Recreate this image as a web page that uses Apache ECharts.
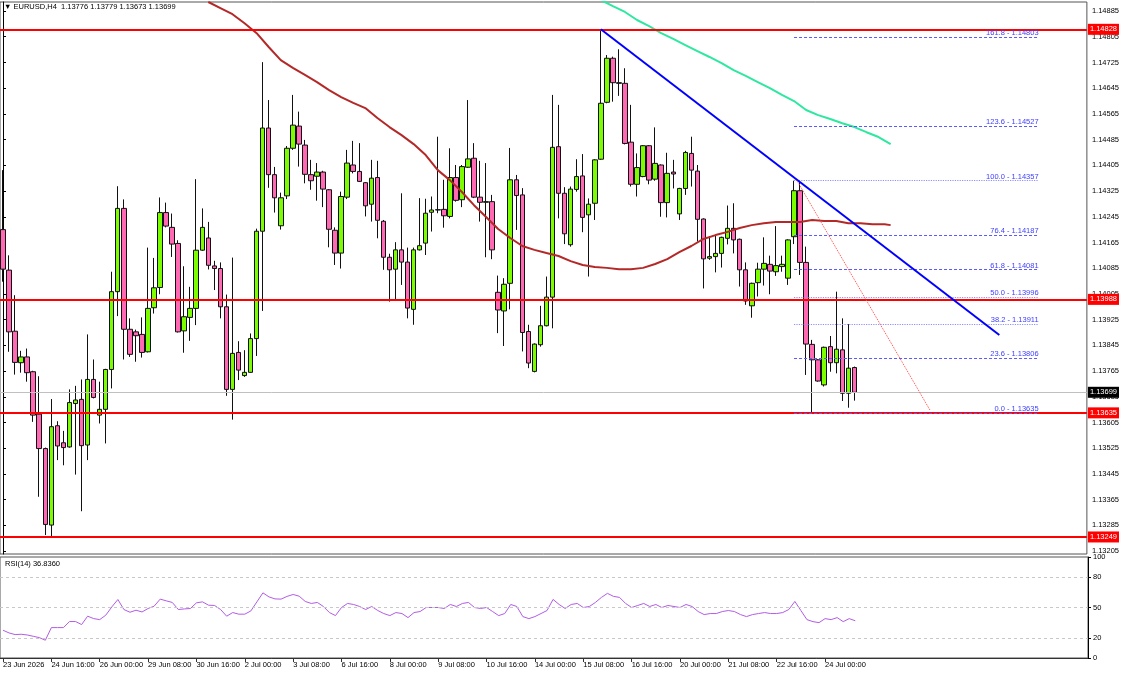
<!DOCTYPE html>
<html>
<head>
<meta charset="utf-8">
<title>EURUSD,H4</title>
<script src="https://cdn.jsdelivr.net/npm/echarts@6/dist/echarts.min.js"></script>
<style>
  html, body { margin: 0; padding: 0; background: #fff; }
  #chart { width: 1122px; height: 674px; }
</style>
</head>
<body>
<div id="chart"></div>
<script>
// H4 candles, 23 Jun 2026 08:00 .. 24 Jul 2026 20:00
var opens = [1.14205,1.14079,1.13889,1.13791,1.13809,1.13763,1.13631,1.13524,1.13286,1.13595,
  1.13542,1.13529,1.13664,1.13677,1.13535,1.13739,1.13628,1.13646,1.13770,1.14012,
  1.14271,1.13895,1.13887,1.13879,1.13825,1.13962,1.14025,1.14258,1.14212,1.14162,
  1.13890,1.13932,1.13960,1.14141,1.14179,1.14092,1.14084,1.13965,1.13708,1.13823,
  1.13751,1.13761,1.13866,1.14200,1.14521,1.14376,1.14217,1.14310,1.14458,1.14527,
  1.14468,1.14376,1.14371,1.14384,1.14329,1.14203,1.14132,1.14306,1.14406,1.14386,
  1.14351,1.14284,1.14367,1.14231,1.14119,1.14082,1.14142,1.14104,1.13957,1.14142,
  1.14163,1.14259,1.14266,1.14268,1.14246,1.14367,1.14298,1.14399,1.14427,1.14306,
  1.14290,1.14292,1.14010,1.13952,1.14038,1.14360,1.14313,1.13888,1.13764,1.13847,
  1.13906,1.13995,1.14463,1.14318,1.14158,1.14330,1.14372,1.14251,1.14287,1.14424,
  1.14601,1.14738,1.14662,1.14660,1.14477,1.14346,1.14370,1.14466,1.14362,1.14406,
  1.14289,1.14384,1.14254,1.14333,1.14442,1.14387,1.14238,1.14116,1.14121,1.14131,
  1.14178,1.14209,1.14175,1.14080,1.13968,1.14040,1.14082,1.14097,1.14074,1.14090,
  1.14054,1.14183,1.14326,1.14103,1.13848,1.13800,1.13722,1.13841,1.13791,1.13831,
  1.13696,1.13776];
var highs = [1.14390,1.14125,1.14001,1.13828,1.13835,1.13766,1.13749,1.13527,1.13678,1.13609,
  1.13579,1.13708,1.13719,1.13739,1.13879,1.13801,1.13732,1.13772,1.14074,1.14340,
  1.14299,1.13929,1.13894,1.13932,1.14149,1.14117,1.14305,1.14289,1.14255,1.14172,
  1.14091,1.14027,1.14362,1.14271,1.14229,1.14108,1.14103,1.14003,1.14118,1.13858,
  1.13830,1.13882,1.14208,1.14726,1.14608,1.14400,1.14320,1.14465,1.14624,1.14572,
  1.14484,1.14422,1.14412,1.14388,1.14331,1.14212,1.14323,1.14453,1.14481,1.14474,
  1.14353,1.14422,1.14419,1.14235,1.14130,1.14166,1.14318,1.14149,1.14149,1.14303,
  1.14301,1.14308,1.14494,1.14360,1.14458,1.14406,1.14406,1.14608,1.14474,1.14419,
  1.14412,1.14313,1.14062,1.14054,1.14459,1.14375,1.14334,1.13909,1.13851,1.13968,
  1.14059,1.14624,1.14593,1.14337,1.14339,1.14424,1.14440,1.14302,1.14424,1.14828,
  1.14748,1.14743,1.14766,1.14707,1.14593,1.14442,1.14468,1.14468,1.14523,1.14408,
  1.14444,1.14422,1.14335,1.14450,1.14494,1.14406,1.14240,1.14185,1.14188,1.14183,
  1.14280,1.14287,1.14177,1.14103,1.14040,1.14102,1.14181,1.14124,1.14216,1.14124,
  1.14175,1.14357,1.14354,1.14152,1.13862,1.13802,1.13841,1.13874,1.14012,1.13929,
  1.13911,1.13779];
var lows = [1.14043,1.13825,1.13754,1.13760,1.13732,1.13607,1.13374,1.13255,1.13249,1.13488,
  1.13472,1.13527,1.13443,1.13329,1.13488,1.13680,1.13602,1.13540,1.13711,1.13936,
  1.13801,1.13809,1.13794,1.13807,1.13823,1.13944,1.14004,1.14212,1.14120,1.13885,
  1.13822,1.13859,1.13908,1.14139,1.14081,1.14017,1.13929,1.13688,1.13614,1.13737,
  1.13747,1.13760,1.13812,1.13952,1.14335,1.14258,1.14205,1.14300,1.14453,1.14401,
  1.14349,1.14329,1.14295,1.14275,1.14150,1.14095,1.14084,1.14300,1.14380,1.14353,
  1.14246,1.14230,1.14178,1.14080,1.13981,1.13986,1.14033,1.13929,1.13909,1.14140,
  1.14126,1.14199,1.14256,1.14211,1.14240,1.14292,1.14275,1.14397,1.14303,1.14230,
  1.14119,1.14113,1.13883,1.13843,1.13957,1.14204,1.13826,1.13774,1.13761,1.13841,
  1.13904,1.13898,1.14240,1.14160,1.14152,1.14323,1.14197,1.14059,1.14235,1.14422,
  1.14598,1.14603,1.14621,1.14470,1.14339,1.14308,1.14368,1.14346,1.14357,1.14245,
  1.14243,1.14333,1.14235,1.14313,1.14339,1.14168,1.14022,1.14111,1.14072,1.14087,
  1.14159,1.14131,1.14028,1.13971,1.13931,1.13997,1.14031,1.14004,1.14061,1.14074,
  1.14033,1.14160,1.14064,1.13753,1.13635,1.13732,1.13717,1.13763,1.13758,1.13672,
  1.13651,1.13673];
var closes = [1.14082,1.13887,1.13792,1.13809,1.13760,1.13628,1.13524,1.13288,1.13592,1.13532,
  1.13527,1.13667,1.13675,1.13533,1.13739,1.13683,1.13646,1.13770,1.14012,1.14271,
  1.13895,1.13817,1.13875,1.13823,1.13960,1.14024,1.14258,1.14216,1.14160,1.13887,
  1.13934,1.13960,1.14141,1.14212,1.14094,1.14084,1.13965,1.13708,1.13820,1.13768,
  1.13761,1.13866,1.14200,1.14521,1.14376,1.14304,1.14304,1.14458,1.14530,1.14471,
  1.14377,1.14357,1.14384,1.14331,1.14206,1.14132,1.14308,1.14412,1.14386,1.14355,
  1.14279,1.14365,1.14234,1.14119,1.14080,1.14142,1.14104,1.13961,1.14142,1.14155,
  1.14256,1.14266,1.14267,1.14248,1.14367,1.14296,1.14401,1.14425,1.14306,1.14290,
  1.14292,1.14142,1.13955,1.14035,1.14360,1.14311,1.13885,1.13790,1.13849,1.13906,
  1.13995,1.14461,1.14318,1.14192,1.14331,1.14370,1.14243,1.14284,1.14422,1.14598,
  1.14738,1.14662,1.14660,1.14473,1.14346,1.14398,1.14466,1.14359,1.14411,1.14289,
  1.14380,1.14378,1.14333,1.14445,1.14390,1.14237,1.14114,1.14121,1.14131,1.14181,
  1.14209,1.14173,1.14080,1.13983,1.14038,1.14082,1.14100,1.14076,1.14093,1.14097,
  1.14173,1.14326,1.14103,1.13849,1.13800,1.13734,1.13839,1.13791,1.13833,1.13696,
  1.13774,1.13699];

// RSI(14), one value per candle
var rsi = [27.5,24.8,23.2,23.5,22.8,21.5,20.2,17.6,30.1,30.1,
  30.1,36.1,36.1,33.1,41.4,39,38,42.4,50.6,57.9,
  48,45.3,47.3,45.6,49,51.3,58.3,56.6,55,48,
  48.6,49,54.6,55.6,52.3,52,48,41.4,45,43.4,
  43.4,46.6,55.6,64.5,60.5,58.5,58.3,61,62.9,61.2,
  56,54,55,51,45,42,50,54,53,51,
  48,51,47,44,42,45,44,40,45,46,
  50,50,50,49,53,51,54,55,50,49,
  50,46,42,44,53,51,41,39,41,44,
  47,58,53,49,53,54,50,51,55,60,
  64,61,60,54,50,52,54,51,53,50,
  52,51,50,53,51,46,43,44,44,46,
  47,46,43,41,43,44,45,44,44,45,
  48,56,47,38,36,35,39,38,40,36,
  39,36.836];

// moving averages drawn shifted forward: [bar, value]
var maRed = [[34,1.14913],[36,1.14894],[38,1.14875],[40,1.14847],[42,1.14816],[44,1.14773],
  [46,1.14732],[48,1.14708],[50,1.14686],[52,1.14664],[54,1.14639],[56,1.14617],[58,1.14599],
  [60,1.14583],[62,1.14552],[64,1.14524],[66,1.14499],[68,1.14471],[70,1.14437],[72,1.14390],
  [74,1.14359],[76,1.14322],[78,1.14281],[80,1.14244],[82,1.14207],[84,1.14179],[86,1.14154],
  [88,1.14142],[90,1.14132],[92,1.14123],[94,1.14107],[96,1.14095],[98,1.14089],[100,1.14086],
  [102,1.14082],[104,1.14082],[106,1.14086],[108,1.14098],[110,1.14113],[112,1.14135],
  [114,1.14154],[116,1.14176],[118,1.14188],[120,1.14198],[122,1.14210],[124,1.14219],
  [126,1.14225],[128,1.14229],[130,1.14229],[132,1.14229],[134,1.14235],[136,1.14232],
  [138,1.14232],[140,1.14225],[142,1.14225],[144,1.14222],[146,1.14222],[147,1.14219]];
var maGreen = [[99,1.14919],[101,1.14900],[103,1.14882],[105,1.14857],[107,1.14838],[109,1.14816],
  [111,1.14798],[113,1.14779],[115,1.14760],[117,1.14742],[119,1.14723],[121,1.14701],
  [123,1.14683],[125,1.14664],[127,1.14645],[129,1.14624],[131,1.14605],[133,1.14577],
  [135,1.14561],[137,1.14549],[139,1.14536],[141,1.14524],[143,1.14508],[145,1.14493],[147,1.14471]];

// drawn objects
var trendBlue = [[99, 1.14828], [165, 1.13877]];
var trendRedDotted = [[131.5, 1.14357], [153.5, 1.13644]];
var fibLevels = [0.0, 23.6, 38.2, 50.0, 61.8, 76.4, 100.0, 123.6, 161.8];
var fibPrices = [1.13635, 1.13806, 1.13911, 1.13996, 1.14081, 1.14187, 1.14357, 1.14527, 1.14803];
var fibFromBar = 131, fibToBar = 171.5;
var levelLines = [1.14828, 1.13988, 1.13635, 1.13249];
var lastPrice = 1.13699;

var yTicks = [1.13205,1.13285,1.13365,1.13445,1.13525,1.13605,1.13685,1.13765,1.13845,1.13925,
  1.14005,1.14085,1.14165,1.14245,1.14325,1.14405,1.14485,1.14565,1.14645,1.14725,1.14805,1.14885];
var rsiTicks = [0, 20, 50, 80, 100];
var rsiLevels = [20, 50, 80];

// bar times (H4, weekdays only), with empty slots on the right
var MONTHS = ['Jan','Feb','Mar','Apr','May','Jun','Jul','Aug','Sep','Oct','Nov','Dec'];
var slotCount = 180;
var categories = [];
for (var t = Date.UTC(2026, 5, 23, 8); categories.length < slotCount; t += 4 * 3600 * 1000) {
  var d = new Date(t);
  var wd = d.getUTCDay();
  if (wd === 0 || wd === 6) continue;
  var hh = ('0' + d.getUTCHours()).slice(-2);
  categories.push(d.getUTCDate() + ' ' + MONTHS[d.getUTCMonth()] + ' ' + hh + ':00');
}
var firstLabel = '23 Jun 2026';

var candles = opens.map(function (o, i) { return [o, closes[i], lows[i], highs[i]]; });

var FONT = 'Liberation Sans';
var showLabel = function (idx) { return idx === 0 || (idx % 8 === 0 && idx < opens.length); };

var fibLines = fibLevels.map(function (lvl, k) {
  var light = lvl === 100 || lvl === 50 || lvl === 38.2;
  return [
    {
      coord: [fibFromBar, fibPrices[k]],
      lineStyle: { color: light ? '#8f8fff' : '#5a5aff', type: light ? 'dotted' : [3, 2], width: 1.2 },
      label: {
        show: true, position: 'insideEndTop', distance: 0,
        formatter: lvl.toFixed(1) + ' - ' + fibPrices[k].toFixed(5),
        color: '#4040ff', fontSize: 7.5, fontFamily: FONT
      }
    },
    { coord: [fibToBar, fibPrices[k]] }
  ];
});

var priceBox = function (v, bg) {
  return {
    show: true, position: 'end', distance: 1, formatter: v.toFixed(5),
    color: '#fff', backgroundColor: bg, padding: [2, 2, 1, 2], fontSize: 7.5, fontFamily: FONT
  };
};
var hLines = levelLines.map(function (v) {
  return [
    { coord: [-0.5, v], lineStyle: { color: '#ff0000', width: 2, type: 'solid' }, label: priceBox(v, '#ff0000') },
    { coord: [slotCount - 0.5, v] }
  ];
});
var lastLine = [[
  { coord: [-0.5, lastPrice], lineStyle: { color: '#c0c0c0', width: 1, type: 'solid' }, label: priceBox(lastPrice, '#000000') },
  { coord: [slotCount - 0.5, lastPrice] }
]];

var chart = echarts.init(document.getElementById('chart'), null, { renderer: 'canvas' });
chart.setOption({
  backgroundColor: '#ffffff',
  animation: false,
  textStyle: { fontFamily: FONT },
  grid: [
    { left: 0, right: 34, top: 2, height: 552, show: true, borderColor: '#555', borderWidth: 1 },
    { left: 0, right: 34, top: 557, height: 101, show: true, borderColor: '#555', borderWidth: 1 }
  ],
  graphic: [
    { type: 'text', left: 4, top: 3, style: { text: '\u25BC EURUSD,H4  1.13776 1.13779 1.13673 1.13699', fill: '#000', font: '7.5px "Liberation Sans"' } },
    { type: 'text', left: 5, top: 560, style: { text: 'RSI(14) 36.8360', fill: '#000', font: '7.5px "Liberation Sans"' } }
  ],
  xAxis: [
    { type: 'category', gridIndex: 0, data: categories, boundaryGap: true, show: false },
    { type: 'value', gridIndex: 0, min: -0.5, max: slotCount - 0.5, show: false },
    {
      type: 'category', gridIndex: 1, data: categories, boundaryGap: true,
      axisLine: { show: true, lineStyle: { color: '#333' } },
      axisTick: { show: true, interval: showLabel, alignWithLabel: true, length: 4, lineStyle: { color: '#333' } },
      axisLabel: {
        show: true, interval: showLabel, align: 'left', margin: 3, fontSize: 7.5, color: '#000',
        formatter: function (v, idx) { return idx === 0 ? firstLabel : v; }
      },
      splitLine: { show: false }
    }
  ],
  yAxis: [
    {
      type: 'value', gridIndex: 0, position: 'right', min: 1.13196, max: 1.14913, scale: true,
      axisLine: { show: true, lineStyle: { color: '#000' } },
      axisTick: { show: true, customValues: yTicks, length: 3, lineStyle: { color: '#000' } },
      axisLabel: { customValues: yTicks, margin: 5, fontSize: 7.5, color: '#000', formatter: function (v) { return v.toFixed(5); } },
      splitLine: { show: false }
    },
    {
      type: 'value', gridIndex: 1, position: 'right', min: 0, max: 100,
      axisLine: { show: true, lineStyle: { color: '#000' } },
      axisTick: { show: true, customValues: rsiTicks, length: 3, lineStyle: { color: '#000' } },
      axisLabel: { customValues: rsiTicks, margin: 5, fontSize: 7.5, color: '#000' },
      splitLine: { show: false }
    }
  ],
  series: [
    {
      name: 'levels', type: 'line', xAxisIndex: 1, yAxisIndex: 0, data: [[-0.5, null]],
      symbol: 'none', z: 2,
      markLine: { silent: true, symbol: 'none', animation: false, data: lastLine }
    },
    {
      name: 'EURUSD', type: 'candlestick', xAxisIndex: 0, yAxisIndex: 0,
      data: candles, barWidth: 5, z: 3,
      itemStyle: { color: '#7cfc00', color0: '#ff69b4', borderColor: '#111', borderColor0: '#111', borderWidth: 1 }
    },
    {
      name: 'MA red', type: 'line', xAxisIndex: 1, yAxisIndex: 0, data: maRed,
      symbol: 'none', z: 4, lineStyle: { color: '#b42828', width: 2 }
    },
    {
      name: 'MA green', type: 'line', xAxisIndex: 1, yAxisIndex: 0, data: maGreen,
      symbol: 'none', z: 4, lineStyle: { color: '#2ee8a0', width: 2 }
    },
    {
      name: 'trend', type: 'line', xAxisIndex: 1, yAxisIndex: 0, data: trendBlue,
      symbol: 'none', z: 5, lineStyle: { color: '#0000ff', width: 2 },
      markLine: { silent: true, symbol: 'none', animation: false, data: hLines.concat(fibLines) }
    },
    {
      name: 'trend dotted', type: 'line', xAxisIndex: 1, yAxisIndex: 0, data: trendRedDotted,
      symbol: 'none', z: 5, lineStyle: { color: '#ff4a4a', width: 1, type: 'dotted' }
    },
    {
      name: 'RSI(14)', type: 'line', xAxisIndex: 2, yAxisIndex: 1, data: rsi,
      symbol: 'none', z: 4, lineStyle: { color: '#b35ce6', width: 1 },
      markLine: {
        silent: true, symbol: 'none', animation: false, label: { show: false },
        lineStyle: { color: '#c8c8c8', type: [3, 3], width: 1 },
        data: rsiLevels.map(function (v) { return { yAxis: v }; })
      }
    }
  ]
});
</script>
</body>
</html>
